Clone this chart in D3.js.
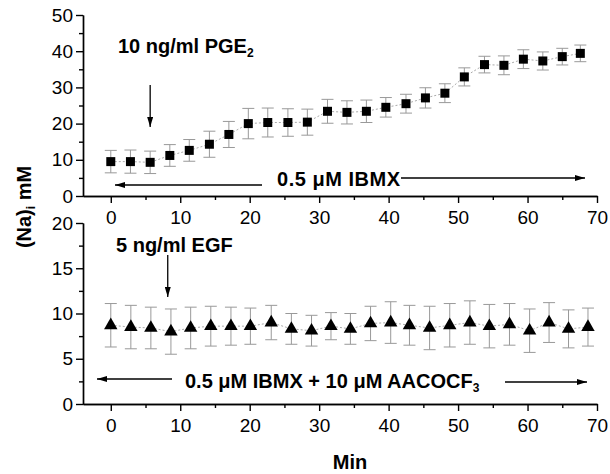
<!DOCTYPE html>
<html>
<head>
<meta charset="utf-8">
<script src="https://cdn.jsdelivr.net/npm/d3@7"></script>
<style>
  body { margin: 0; background: #fff; }
  svg { font-family: "Liberation Sans", Arial, sans-serif; }
  .axis path, .axis line { stroke: #000; stroke-width: 1.4; }
  .axis text { font-size: 19px; fill: #000; }
  .lbl { font-weight: bold; font-size: 20px; }
</style>
</head>
<body>
<div class="chart"></div>
<script>
// data -----------------------------------------------
const topMin = [0, 2.83, 5.67, 8.5, 11.3, 14.2, 17.0, 19.8, 22.6, 25.5, 28.3, 31.2, 34.0,
                36.8, 39.6, 42.5, 45.3, 48.1, 50.9, 53.8, 56.6, 59.4, 62.2, 65.0, 67.6];
const topNa  = [9.5, 9.5, 9.3, 11.2, 12.6, 14.3, 17.0, 20.0, 20.3, 20.3, 20.4, 23.4, 23.1,
                23.4, 24.5, 25.5, 27.1, 28.4, 32.9, 36.3, 36.1, 37.8, 37.3, 38.5, 39.4];
const topErr = [3.1, 3.2, 3.1, 3.0, 3.0, 3.6, 3.6, 4.2, 4.0, 3.8, 3.6, 3.3, 3.2,
                3.1, 2.7, 2.6, 2.8, 2.6, 2.5, 2.3, 2.6, 2.6, 2.5, 2.3, 2.3];

const botMin = [0, 2.89, 5.77, 8.66, 11.5, 14.4, 17.3, 20.1, 23.1, 26.0, 28.9, 31.7, 34.5,
                37.4, 40.3, 43.0, 45.9, 48.8, 51.7, 54.5, 57.4, 60.3, 63.1, 65.9, 68.7];
const botNa  = [8.7, 8.5, 8.4, 8.0, 8.4, 8.6, 8.6, 8.6, 9.0, 8.3, 8.1, 8.6, 8.3,
                8.9, 9.0, 8.7, 8.4, 8.7, 9.0, 8.6, 8.8, 8.1, 9.0, 8.3, 8.5];
const botErr = [2.4, 2.4, 2.3, 2.5, 2.3, 2.2, 2.1, 2.0, 1.9, 1.7, 1.7, 1.5, 1.7,
                1.9, 2.3, 2.2, 2.4, 2.4, 2.4, 2.4, 2.3, 2.4, 2.2, 2.1, 2.1];

const xTicks = [0, 10, 20, 30, 40, 50, 60, 70];
const xMinor = [5, 15, 25, 35, 45, 55, 65];
const topTicks = [0, 10, 20, 30, 40, 50];
const topMinor = [5, 15, 25, 35, 45];
const botTicks = [0, 5, 10, 15, 20];
const botMinor = [2.5, 7.5, 12.5, 17.5];

// chart --------------------------------------------
const W = 610, H = 474;
const svg = d3.select('.chart').append('svg')
    .attr('width', W).attr('height', H);

const defs = svg.append('defs');
defs.append('marker')
    .attr('id', 'head')
    .attr('viewBox', '0 0 10 6')
    .attr('refX', 10).attr('refY', 3)
    .attr('markerWidth', 10).attr('markerHeight', 6)
    .attr('markerUnits', 'userSpaceOnUse')
    .attr('orient', 'auto')
    .append('path').attr('d', 'M0,0L10,3L0,6Z').attr('fill', '#000');

const xScale = d3.scaleLinear().domain([-4, 70]).range([83, 597]);
const yTop = d3.scaleLinear().domain([0, 50]).range([196, 15]);
const yBot = d3.scaleLinear().domain([0, 20]).range([404, 223]);

function drawAxes(y, ticks, minor) {
    const y0 = y.range()[0];
    svg.append('g').attr('class', 'axis')
        .attr('transform', `translate(0,${y0})`)
        .call(d3.axisBottom(xScale).tickValues(xTicks).tickSize(7).tickSizeOuter(0).tickPadding(8));
    svg.append('g').attr('class', 'axis')
        .attr('transform', `translate(0,${y0})`)
        .call(d3.axisBottom(xScale).tickValues(xMinor).tickSize(4).tickSizeOuter(0).tickFormat(''));
    svg.append('g').attr('class', 'axis')
        .attr('transform', `translate(${xScale.range()[0]},0)`)
        .call(d3.axisLeft(y).tickValues(ticks).tickSize(7).tickSizeOuter(0).tickPadding(3));
    svg.append('g').attr('class', 'axis')
        .attr('transform', `translate(${xScale.range()[0]},0)`)
        .call(d3.axisLeft(y).tickValues(minor).tickSize(4).tickSizeOuter(0).tickFormat(''));
}
drawAxes(yTop, topTicks, topMinor);
drawAxes(yBot, botTicks, botMinor);
svg.selectAll('.axis .domain').attr('stroke-width', 1.6);

function drawSeries(mins, vals, errs, y, shape) {
    const data = mins.map((m, i) => ({m: m, v: vals[i], e: errs[i]}));
    const g = svg.append('g');
    g.append('path')
        .datum(data)
        .attr('fill', 'none')
        .attr('stroke', '#aaaaaa')
        .attr('stroke-width', 1)
        .attr('stroke-dasharray', '2,2')
        .attr('d', d3.line().x(d => xScale(d.m)).y(d => y(d.v)));
    const eb = g.selectAll('.err').data(data).enter().append('g')
        .attr('stroke', '#999').attr('stroke-width', 1);
    eb.append('line')
        .attr('x1', d => xScale(d.m)).attr('x2', d => xScale(d.m))
        .attr('y1', d => y(d.v + d.e)).attr('y2', d => y(d.v - d.e));
    eb.append('line')
        .attr('x1', d => xScale(d.m) - 6).attr('x2', d => xScale(d.m) + 6)
        .attr('y1', d => y(d.v + d.e)).attr('y2', d => y(d.v + d.e));
    eb.append('line')
        .attr('x1', d => xScale(d.m) - 6).attr('x2', d => xScale(d.m) + 6)
        .attr('y1', d => y(d.v - d.e)).attr('y2', d => y(d.v - d.e));
    g.selectAll('.pt').data(data).enter().append('path')
        .attr('transform', d => `translate(${xScale(d.m)},${y(d.v)})`)
        .attr('d', d3.symbol().type(shape).size(shape === d3.symbolSquare ? 81 : 78))
        .attr('fill', '#000');
}
drawSeries(topMin, topNa, topErr, yTop, d3.symbolSquare);
drawSeries(botMin, botNa, botErr, yBot, d3.symbolTriangle);

function arrow(x1, y1, x2, y2) {
    svg.append('line')
        .attr('x1', x1).attr('y1', y1).attr('x2', x2).attr('y2', y2)
        .attr('stroke', '#000').attr('stroke-width', 1.3)
        .attr('marker-end', 'url(#head)');
}

// top panel annotations
const t1 = svg.append('text').attr('class', 'lbl').attr('x', 118).attr('y', 53);
t1.append('tspan').text('10 ng/ml PGE');
t1.append('tspan').attr('font-size', 12).attr('dy', 4).text('2');
arrow(xScale(5.67), 85, xScale(5.67), 127);

svg.append('text').attr('class', 'lbl').attr('x', 277).attr('y', 186)
    .attr('textLength', 123).text('0.5 \u03BCM IBMX');
arrow(262, 185, 115, 185);
arrow(401, 178, 585, 178);

// bottom panel annotations
svg.append('text').attr('class', 'lbl').attr('x', 116).attr('y', 252).text('5 ng/ml EGF');
arrow(xScale(8.2), 255, xScale(8.2), 297);

const t2 = svg.append('text').attr('class', 'lbl').attr('x', 185).attr('y', 388);
t2.append('tspan').text('0.5 \u03BCM IBMX + 10 \u03BCM AACOCF');
t2.append('tspan').attr('font-size', 12).attr('dy', 4).text('3');
arrow(172, 379, 97, 379);
arrow(505, 382, 587, 382);

// axis titles
const yl = svg.append('text').attr('class', 'lbl')
    .attr('text-anchor', 'middle')
    .attr('transform', 'translate(31,207) rotate(-90)');
yl.append('tspan').text('(Na)');
yl.append('tspan').attr('font-size', 12).attr('dy', 4).text('i');
yl.append('tspan').attr('dy', -4).text(' mM');

svg.append('text').attr('class', 'lbl')
    .attr('text-anchor', 'middle')
    .attr('x', 350).attr('y', 469)
    .text('Min');
</script>
</body>
</html>
